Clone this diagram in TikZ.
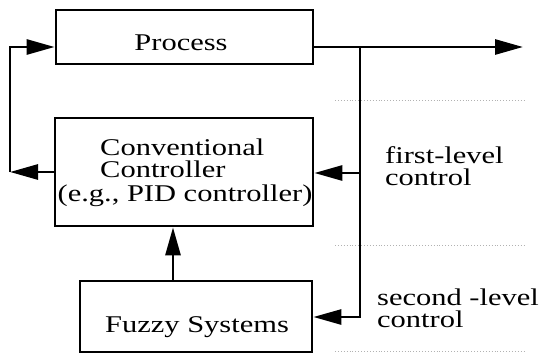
\documentclass[tikz,border=0pt]{standalone}
\usepackage{fontspec}
\usepackage{graphicx}
\setmainfont{Liberation Serif}
\usetikzlibrary{arrows.meta}
\newcommand{\wide}[1]{\scalebox{1.27}[1]{#1}}
\tikzset{
  blk/.style={draw, line width=2.8pt, rectangle, inner sep=0pt},
  lbl/.style={inner sep=0pt, font=\fontsize{24}{26}\selectfont},
  conn/.style={line width=2.8pt, -{Triangle[length=28pt,width=15pt]}},
  wire/.style={line width=2.8pt},
  faint/.style={gray!60, line width=0.9pt, dotted}
}
\begin{document}
\begin{tikzpicture}[x=1pt,y=-1pt]
\useasboundingbox (0,0) rectangle (543,354);
% boxes
\node[blk, minimum width=257pt, minimum height=54pt] (proc) at (184.5,37) {};
\node[blk, minimum width=258pt, minimum height=108pt] (conv) at (184,172) {};
\node[blk, minimum width=232pt, minimum height=71pt] (fuzzy) at (196,316.5) {};
% texts
\node[lbl, anchor=base] (tproc) at (181,50) {\wide{Process}};
\node[lbl, anchor=base west] (tconv1) at (100,155) {\wide{Conventional}};
\node[lbl, anchor=base west] (tconv2) at (100,177) {\wide{Controller}};
\node[lbl, anchor=base] (tconv3) at (185,201) {\wide{(e.g., PID controller)}};
\node[lbl, anchor=base] (tfuzzy) at (197,332) {\wide{Fuzzy Systems}};
\node[lbl, anchor=base west] (tfirst1) at (385,163) {\wide{first-level}};
\node[lbl, anchor=base west] (tfirst2) at (385,185) {\wide{control}};
\node[lbl, anchor=base west] (tsec1) at (377,305) {\wide{second -level}};
\node[lbl, anchor=base west] (tsec2) at (377,327) {\wide{control}};
% coordinates
\coordinate (out) at (523,47);
\coordinate (br) at (360,47);
\coordinate (brc) at (360,173);
\coordinate (brf) at (360,317);
\coordinate (fb) at (10,172);
\coordinate (fb2) at (10,47);
\coordinate (fzt) at (173,281);
% connectors
\draw[conn] (proc.east |- out) -- (out);
\draw[wire] (br) -- (brc);
\draw[conn] (brc) -- (conv.east |- brc);
\draw[conn] (brc) |- (brf) -- (fuzzy.east |- brf);
\draw[conn] (conv.west |- fb) -- (fb);
\draw[conn] (fb) -- (fb2) -- (proc.west |- fb2);
\draw[conn] (fzt) -- (fzt |- conv.south);
% faint scan lines
\draw[faint] (335,100) -- (525,100);
\draw[faint] (335,245) -- (525,245);
\draw[faint] (335,351) -- (525,351);
\end{tikzpicture}
\end{document}
